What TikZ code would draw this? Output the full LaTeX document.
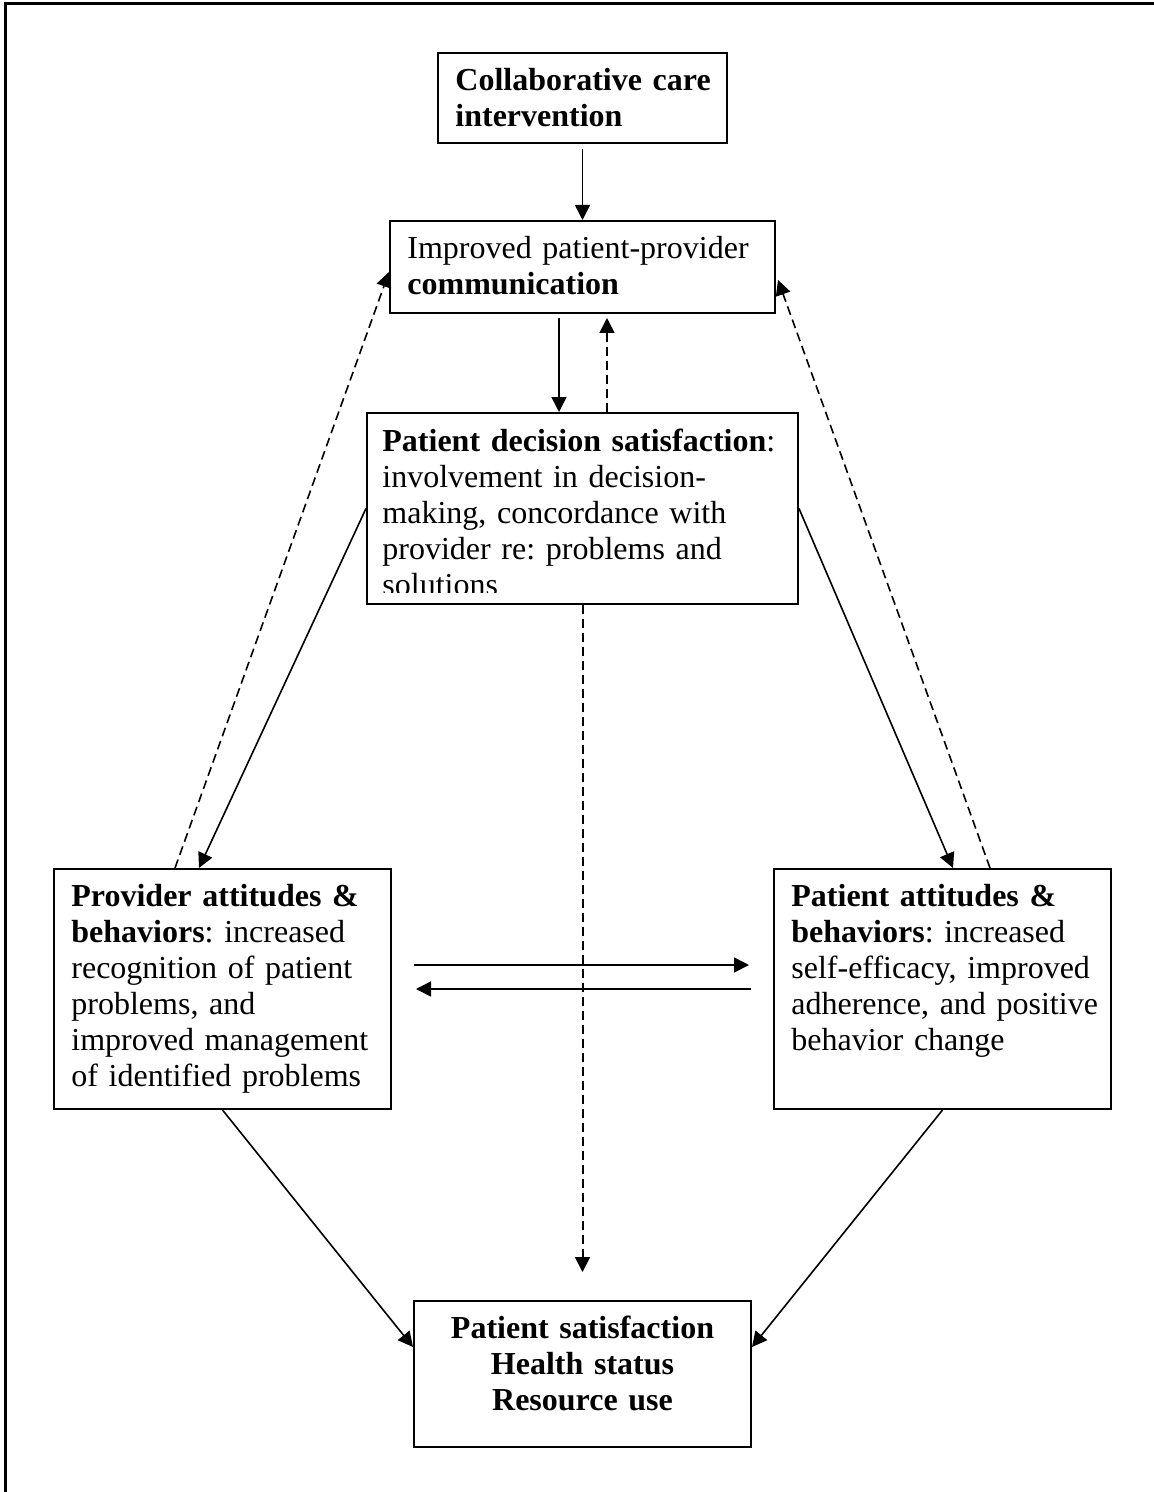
\documentclass[tikz,border=0pt]{standalone}
\usepackage{fontspec}
\setmainfont{Liberation Serif}
\usetikzlibrary{arrows.meta,calc}
\begin{document}
\frenchspacing
\begin{tikzpicture}[x=0.5pt,y=-0.5pt,
  box/.style={draw,line width=1pt,rectangle,inner sep=0pt},
  txt/.style={inner sep=0pt,anchor=base west,align=left,text width=200pt,font=\fontsize{16}{18}\selectfont\frenchspacing},
  conn/.style={line width=0.8pt,-{Triangle[length=7.5pt,width=7.5pt]}},
  dconn/.style={conn,dash pattern=on 4.5pt off 2.5pt}]
\useasboundingbox (0,0) rectangle (1154,1492);
\draw[line width=1.5pt] (5,1492) -- (5,4) -- (1154,4);

% boxes
\node[box,minimum width=289*0.5pt,minimum height=90*0.5pt] (b1) at (582.5,98) {};
\node[box,minimum width=385*0.5pt,minimum height=92*0.5pt] (b2) at (582.5,267) {};
\node[box,minimum width=431*0.5pt,minimum height=191*0.5pt] (b3) at (582.5,508.5) {};
\node[box,minimum width=337*0.5pt,minimum height=240*0.5pt] (b4) at (222.5,989) {};
\node[box,minimum width=337*0.5pt,minimum height=240*0.5pt] (b5) at (942.5,989) {};
\node[box,minimum width=337*0.5pt,minimum height=146*0.5pt] (b6) at (582.5,1374) {};

% texts
\node[txt] (t1) at ($(b1.north west)+(18,39)$) {\textbf{Collaborative care}\\\textbf{intervention}};
\node[txt] (t2) at ($(b2.north west)+(18,39)$) {Improved patient-provider\\\textbf{communication}};
\begin{scope}
\clip ($(b3.north west)+(1,1)$) rectangle ($(b3.south east)+(-1,-13)$);
\node[txt] (t3) at ($(b3.north west)+(16,39)$) {\textbf{Patient decision satisfaction}:\\involvement in decision-\\making, concordance with\\provider re: problems and\\solutions};
\end{scope}
\node[txt] (t4) at ($(b4.north west)+(18,38)$) {\textbf{Provider attitudes \&}\\\textbf{behaviors}: increased\\recognition of patient\\problems, and\\improved management\\of identified problems};
\node[txt] (t5) at ($(b5.north west)+(18,38)$) {\textbf{Patient attitudes \&}\\\textbf{behaviors}: increased\\self-efficacy, improved\\adherence, and positive\\behavior change};
\node[inner sep=0pt,anchor=base,align=center,text width=337*0.5pt,font=\fontsize{16}{18}\selectfont\bfseries] (t6) at ($(b6.north)+(0,38)$) {Patient satisfaction\\Health status\\Resource use};

% connectors
\draw[conn] ($(b1.south)+(0,5)$) -- (b2.north);
\draw[conn] ($(b2.south)+(-23.5,4)$) -- ($(b3.north)+(-23.5,0)$);
\draw[dconn] ($(b3.north)+(24.5,0)$) -- ($(b2.south)+(24.5,4)$);
\draw[conn] (b3.west) -- ($(b4.north)+(-23.5,0)$);
\draw[conn] (b3.east) -- ($(b5.north)+(10.5,0)$);
\draw[dconn] ($(b4.north)+(-47.5,0)$) -- ($(b2.west)+(0,5)$);
\draw[dconn] ($(b5.north)+(47.5,0)$) -- ($(b2.east)+(2,13)$);
\coordinate (dEnd) at ($(b6.north)+(0,-28)$);
\draw[dconn,line width=1pt] (b3.south) -- (dEnd);
\coordinate (hA) at ($(b4.east)+(22,-24)$);
\coordinate (hB) at ($(b5.west)+(-24,-24)$);
\coordinate (hC) at ($(b5.west)+(-22,0)$);
\coordinate (hD) at ($(b4.east)+(24,0)$);
\draw[conn] (hA) -- (hB);
\draw[conn] (hC) -- (hD);
\draw[conn] (b4.south) -- ($(b6.west)+(0,-27)$);
\draw[conn] (b5.south) -- ($(b6.east)+(0,-27)$);
\end{tikzpicture}
\end{document}
